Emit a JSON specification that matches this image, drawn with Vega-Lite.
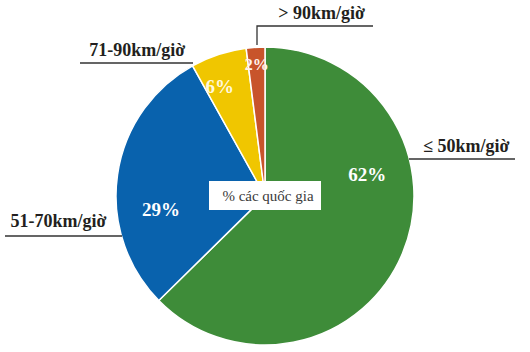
{
  "$schema": "https://vega.github.io/schema/vega-lite/v6.json",
  "autosize": {"type": "none"},
  "width": 530,
  "height": 312,
  "padding": {"top": 40, "left": 0, "right": 0, "bottom": 0},
  "background": "white",
  "config": {"view": {"stroke": null}},
  "data": {
    "values": [
      {"ord": 1, "cat": "≤ 50km/giờ", "value": 62, "pct": "62%"},
      {"ord": 2, "cat": "51-70km/giờ", "value": 29, "pct": "29%"},
      {"ord": 3, "cat": "71-90km/giờ", "value": 6, "pct": "6%"},
      {"ord": 4, "cat": "> 90km/giờ", "value": 2, "pct": "2%"}
    ]
  },
  "layer": [
    {
      "mark": {"type": "arc", "outerRadius": 149, "stroke": "white", "strokeWidth": 1.5},
      "encoding": {
        "theta": {"field": "value", "type": "quantitative", "stack": true},
        "order": {"field": "ord", "type": "quantitative"},
        "color": {
          "field": "cat", "type": "nominal", "legend": null,
          "scale": {"domain": ["≤ 50km/giờ", "51-70km/giờ", "71-90km/giờ", "> 90km/giờ"],
                    "range": ["#3e8c39", "#0962ad", "#f0c600", "#c8542b"]}
        }
      }
    },
    {
      "mark": {"type": "text", "radius": 100, "dx": 10, "dy": -60, "font": "Liberation Serif", "fontWeight": "bold", "fontSize": 19, "fill": "white", "align": "center", "baseline": "middle"},
      "encoding": {
        "theta": {"field": "value", "type": "quantitative", "stack": true},
        "order": {"field": "ord", "type": "quantitative"},
        "text": {"condition": {"test": "datum.ord == 1", "field": "pct", "type": "nominal"}, "value": ""}
      }
    },
    {
      "mark": {"type": "text", "radius": 100, "dx": -5, "dy": 28, "font": "Liberation Serif", "fontWeight": "bold", "fontSize": 19, "fill": "white", "align": "center", "baseline": "middle"},
      "encoding": {
        "theta": {"field": "value", "type": "quantitative", "stack": true},
        "order": {"field": "ord", "type": "quantitative"},
        "text": {"condition": {"test": "datum.ord == 2", "field": "pct", "type": "nominal"}, "value": ""}
      }
    },
    {
      "mark": {"type": "text", "radius": 100, "dx": -14, "dy": -14, "font": "Liberation Serif", "fontWeight": "bold", "fontSize": 19, "fill": "#fff8dc", "align": "center", "baseline": "middle"},
      "encoding": {
        "theta": {"field": "value", "type": "quantitative", "stack": true},
        "order": {"field": "ord", "type": "quantitative"},
        "text": {"condition": {"test": "datum.ord == 3", "field": "pct", "type": "nominal"}, "value": ""}
      }
    },
    {
      "mark": {"type": "text", "radius": 100, "dx": -2, "dy": -31, "font": "Liberation Serif", "fontWeight": "bold", "fontSize": 16, "fill": "#fff4ee", "align": "center", "baseline": "middle"},
      "encoding": {
        "theta": {"field": "value", "type": "quantitative", "stack": true},
        "order": {"field": "ord", "type": "quantitative"},
        "text": {"condition": {"test": "datum.ord == 4", "field": "pct", "type": "nominal"}, "value": ""}
      }
    },
    {
      "data": {"values": [{"title": "% các quốc gia"}]},
      "mark": {"type": "point", "shape": "M-56,-15L56,-15L56,14L-56,14Z", "size": 4, "filled": true, "fill": "white", "stroke": null, "opacity": 1},
      "encoding": {}
    },
    {
      "data": {"values": [{"title": "% các quốc gia"}]},
      "mark": {"type": "text", "font": "Liberation Serif", "fontSize": 15, "fill": "#3a3a3a", "align": "center", "baseline": "middle", "dx": 3},
      "encoding": {"text": {"field": "title", "type": "nominal"}}
    },
    {
      "data": {"values": [{"title": "leaders"}]},
      "mark": {"type": "point", "shape": "M-8,-151L-8,-170L108,-170M-185,-133L-72,-133M-260,40L-143,40M144,-37L250,-37", "size": 4, "filled": false, "stroke": "#333333", "strokeWidth": 1.3, "opacity": 1},
      "encoding": {}
    },
    {
      "mark": {"type": "text", "radius": 150, "dx": 63, "dy": -102, "font": "Liberation Serif", "fontWeight": "bold", "fontSize": 18, "fill": "#231f20", "align": "center", "baseline": "alphabetic"},
      "encoding": {
        "theta": {"field": "value", "type": "quantitative", "stack": true},
        "order": {"field": "ord", "type": "quantitative"},
        "text": {"condition": {"test": "datum.ord == 1", "field": "cat", "type": "nominal"}, "value": ""}
      }
    },
    {
      "mark": {"type": "text", "radius": 150, "dx": -58, "dy": 52, "font": "Liberation Serif", "fontWeight": "bold", "fontSize": 18, "fill": "#231f20", "align": "center", "baseline": "alphabetic"},
      "encoding": {
        "theta": {"field": "value", "type": "quantitative", "stack": true},
        "order": {"field": "ord", "type": "quantitative"},
        "text": {"condition": {"test": "datum.ord == 2", "field": "cat", "type": "nominal"}, "value": ""}
      }
    },
    {
      "mark": {"type": "text", "radius": 150, "dx": -81, "dy": 3, "font": "Liberation Serif", "fontWeight": "bold", "fontSize": 18, "fill": "#231f20", "align": "center", "baseline": "alphabetic"},
      "encoding": {
        "theta": {"field": "value", "type": "quantitative", "stack": true},
        "order": {"field": "ord", "type": "quantitative"},
        "text": {"condition": {"test": "datum.ord == 3", "field": "cat", "type": "nominal"}, "value": ""}
      }
    },
    {
      "mark": {"type": "text", "radius": 150, "dx": 66, "dy": -27, "font": "Liberation Serif", "fontWeight": "bold", "fontSize": 18, "fill": "#231f20", "align": "center", "baseline": "alphabetic"},
      "encoding": {
        "theta": {"field": "value", "type": "quantitative", "stack": true},
        "order": {"field": "ord", "type": "quantitative"},
        "text": {"condition": {"test": "datum.ord == 4", "field": "cat", "type": "nominal"}, "value": ""}
      }
    }
  ]
}
